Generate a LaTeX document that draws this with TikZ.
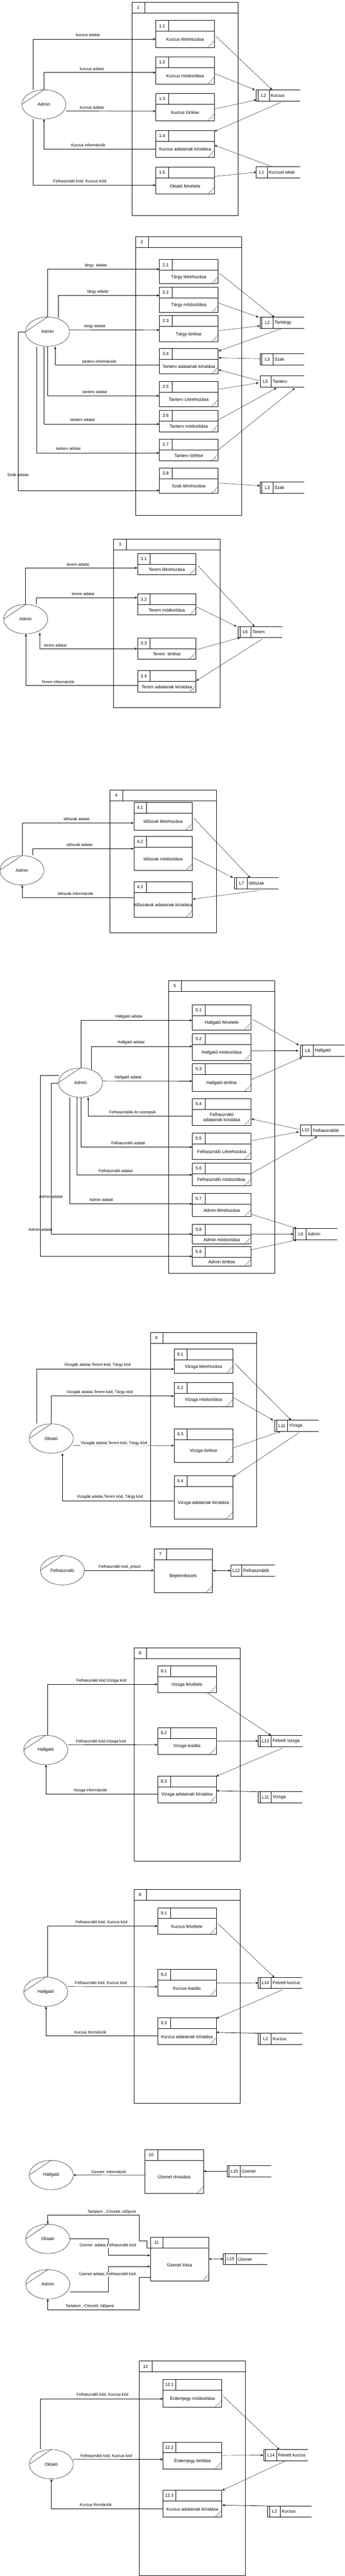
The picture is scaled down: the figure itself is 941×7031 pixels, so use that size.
\documentclass[tikz,border=0pt]{standalone}
\usepackage{fontspec}
\setmainfont{Liberation Sans}
\usetikzlibrary{arrows.meta, positioning, shapes.geometric, calc}

% process box: name, x, y top, height, number, text
\newcommand{\dfdproc}[6]{%
  \node[procbox, minimum height=#4pt] (#1) at (#2,#3) {};
  \draw[line width=1pt] ($(#1.north west)+(0,30)$) -- ($(#1.north east)+(0,30)$);
  \draw ($(#1.north west)+(35,0)$) -- ($(#1.north west)+(35,30)$);
  \draw ($(#1.south east)+(-19,0)$) -- ($(#1.south east)+(0,-20)$);
  \node[txt] (#1n) at ($(#1.north west)+(17.5,15)$) {#5};
  \node[txt, align=center] (#1t) at ($(#1.center)+(0,15)$) {#6};
  \node[astk] (#1s) at ($(#1.south east)+(-7,-5)$) {*};
}
% container: name, x, y top, height, number
\newcommand{\dfdcont}[5]{%
  \node[contbox, minimum height=#4pt] (#1) at (#2,#3) {};
  \draw[line width=1pt] ($(#1.north west)+(0,30)$) -- ($(#1.north east)+(0,30)$);
  \draw ($(#1.north west)+(35,0)$) -- ($(#1.north west)+(35,30)$);
  \node[txt] (#1n) at ($(#1.north west)+(17.5,15)$) {#5};
}
% data store: name, x, y top, id, text, inner line offset
\newcommand{\dfdstore}[6]{%
  \node[storebox] (#1) at (#2,#3) {};
  \draw[line width=1pt] (#1.north east) -- (#1.north west) -- (#1.south west) -- (#1.south east);
  \ifnum#6>0 \draw ($(#1.north west)+(#6,0)$) -- ($(#1.south west)+(#6,0)$);\fi
  \draw ($(#1.north west)+(30+#6,0)$) -- ($(#1.south west)+(30+#6,0)$);
  \node[txt] (#1i) at ($(#1.west)+(15+#6,0)$) {#4};
  \node[txt, anchor=west] (#1t) at ($(#1.west)+(33.5+#6,0)$) {#5};
}
% external entity: name, position, text
\newcommand{\dfdent}[3]{%
  \node[entity] (#1) at (#2) {#3};
  \draw[line width=0.7pt] (#1.west) -- (#1.north);
}

\begin{document}
\begin{tikzpicture}[x=1pt, y=-1pt,
    procbox/.style={draw, line width=1pt, minimum width=160pt, inner sep=0pt, anchor=north west},
    contbox/.style={draw, line width=1pt, minimum width=290pt, inner sep=0pt, anchor=north west},
    storebox/.style={minimum width=120pt, minimum height=30pt, inner sep=0pt, anchor=north west},
    entity/.style={ellipse, draw, line width=0.7pt, minimum width=120pt, minimum height=80pt, inner sep=0pt, font=\fontsize{12}{14}\selectfont},
    txt/.style={font=\fontsize{12}{14}\selectfont, inner sep=1pt},
    astk/.style={font=\fontsize{7}{8}\selectfont, inner sep=0pt},
    lbl/.style={font=\fontsize{11}{13}\selectfont, fill=white, inner sep=1pt},
    lblv/.style={font=\fontsize{11}{13}\selectfont, inner sep=1pt},
    flow/.style={line width=1pt, arrows={-Stealth[length=7pt, width=6pt]}},
    flow2/.style={line width=1pt, arrows={Stealth[length=7pt, width=6pt]-Stealth[length=7pt, width=6pt]}},
    link/.style={line width=0.6pt, arrows={-Stealth[length=7pt, width=6pt]}}]
    \useasboundingbox (0,0) rectangle (941,7031);

    % 1 - kurzusok
    \dfdcont{c1}{360}{5.4}{582.6}{1}
    \dfdproc{p11}{425}{55.5}{73.5}{1.1}{Kurzus létrehozása}
    \dfdproc{p12}{425}{155}{74}{1.2}{Kurzus módosítása}
    \dfdproc{p13}{425}{255}{74}{1.3}{Kurzus törlése}
    \dfdproc{p14}{425}{355.5}{73}{1.4}{Kurzus adatainak kiíratása}
    \dfdproc{p15}{425}{455}{74}{1.5}{Oktató felvétele}
    \dfdent{a1}{120,285}{Admin}
    \dfdstore{s1a}{700}{245.3}{L2}{Kurzus}{5}
    \dfdstore{s1b}{700}{455}{L1}{Kurzust oktat}{0}
    \draw[flow] ($(a1.north)+(-30,0)$) |- ($(p11.west)+(0,14)$);
    \draw[flow] (a1.north) |- ($(p12.west)+(0,5.5)$);
    \draw[flow] ($(a1.east)+(0,18)$) -- ($(p13.west)+(0,11)$);
    \draw[flow] ($(p14.west)+(0,13.7)$) -| (a1.south);
    \draw[flow] ($(a1.south)+(-30,0)$) |- ($(p15.west)+(0,13)$);
    \draw[link] ($(p11.east)+(3,5.4)$) -- ($(s1a.north west)+(43,0)$);
    \draw[link] ($(p12.east)+(0,8)$) -- ($(s1a.north west)+(-4,0)$);
    \draw[link] ($(p13.east)+(0,5)$) -- ($(s1a.south west)+(0,-3)$);
    \draw[link] ($(s1a.south west)+(67,3.5)$) -- ($(p14.north east)+(0,3)$);
    \draw[link] ($(s1b.north west)+(43,0)$) -- ($(p14.east)+(0,4)$);
    \draw[link] ($(p15.east)+(0,-11)$) -- (s1b.west);
    \node[lbl] (l11) at (240,95.7) {kurzus adatai};
    \node[lbl] (l12) at (251,188) {kurzus adatai};
    \node[lbl] (l13) at (251,293) {kurzus adatai};
    \node[lbl] (l14) at (241,396) {Kurzus információk};
    \node[lbl] (l15) at (218,495) {Felhasználó Kód, Kurzus Kód};

    % 2 - tantargyak, tantervek
    \dfdcont{c2}{370}{645}{760.5}{2}
    \dfdproc{p21}{435}{708}{66}{2.1}{Tárgy létrehozása}
    \dfdproc{p22}{435}{783}{69.6}{2.2}{Tárgy módosítása}
    \dfdproc{p23}{435}{861}{72}{2.3}{Tárgy törlése}
    \dfdproc{p24}{435}{951}{69}{2.4}{Tanterv adatainak kiíratása}
    \dfdproc{p25}{435}{1041}{68}{2.5}{Tanterv Létrehozása}
    \dfdproc{p26}{435}{1119}{59}{2.6}{Tanterv módosítása}
    \dfdproc{p27}{435}{1198}{59.4}{2.7}{Tanterv törlése}
    \dfdproc{p28}{435}{1277}{69}{2.8}{Szak létrehozása}
    \dfdent{a2}{130,905.4}{Admin}
    \dfdstore{s2a}{710}{865.6}{L2}{Tantárgy}{5}
    \dfdstore{s2b}{710}{965.5}{L3}{Szak}{5}
    \dfdstore{s2c}{710}{1025.6}{L5}{Tanterv}{0}
    \dfdstore{s2d}{710}{1315.6}{L3}{Szak}{5}
    \draw[flow] (a2.north) |- ($(p21.west)+(0,-6.7)$);
    \draw[flow] ($(a2.north)+(30,2)$) |- ($(p22.west)+(0,-11.8)$);
    \draw[flow] ($(a2.east)+(0,-5)$) -- ($(p23.west)+(0,3.4)$);
    \draw[flow] ($(p24.west)+(0,9.5)$) -| ($(a2.south)+(20.6,0)$);
    \draw[flow] (a2.south) |- ($(p25.west)+(0,5)$);
    \draw[flow] ($(a2.south)+(-9.4,0)$) |- ($(p26.west)+(0,8.5)$);
    \draw[flow] ($(a2.south)+(-30,0)$) |- ($(p27.west)+(0,8)$);
    \draw[flow] (a2.west) -- ++(-19.6,0) |- ($(p28.west)+(0,26.5)$);
    \draw[link] ($(p21.east)+(4,4.8)$) -- ($(s2a.north west)+(39,0)$);
    \draw[link] ($(p22.east)+(1,8.8)$) -- ($(s2a.north west)+(-4,0)$);
    \draw[link] ($(p23.east)+(1,5)$) -- ($(s2a.south west)+(0,-6.4)$);
    \draw[link] ($(s2a.south west)+(60,0.4)$) -- ($(p24.north east)+(1,7)$);
    \draw[link] ($(s2b.west)+(0,-1.5)$) -- ($(p24.east)+(1,-9.5)$);
    \draw[link] ($(s2c.west)+(-3,-1.6)$) -- ($(p24.east)+(1,23.2)$);
    \draw[link] ($(p25.east)+(1,-13)$) -- ($(s2c.west)+(-4,4.1)$);
    \draw[link] ($(p26.east)+(1,-3.5)$) -- ($(s2c.south west)+(45,3)$);
    \draw[link] ($(p27.north east)+(1,29.5)$) -- ($(s2c.south west)+(95,3.5)$);
    \draw[link] ($(p28.east)+(1,6.5)$) -- ($(s2d.west)+(0,-5)$);
    \node[lbl] (l21) at (262,725) {tárgy\ \ adatai};
    \node[lbl] (l22) at (267,796) {tárgy adatai};
    \node[lbl] (l23) at (259,891) {tárgy adatai};
    \node[lbl] (l24) at (271,986) {tanterv információk};
    \node[lbl] (l25) at (259,1070) {tanterv adatai};
    \node[lbl] (l26) at (225.6,1146) {tanterv adatai};
    \node[lbl] (l27) at (186.6,1225) {tanterv adatai};
    \node[lblv] (l28) at (49,1296) {Szak adatai};

    % 3 - termek
    \dfdcont{c3}{310}{1470.6}{459.4}{3}
    \dfdproc{p31}{375}{1510}{57.8}{3.1}{Terem létrehozása}
    \dfdproc{p32}{375}{1620.6}{57.4}{3.2}{Terem módosítása}
    \dfdproc{p33}{375}{1740.4}{57.6}{3.3}{Terem\ \ törlése}
    \dfdproc{p34}{375}{1830}{58.4}{3.4}{Terem adatainak kiíratása}
    \dfdent{a3}{70,1690}{Admin}
    \dfdstore{s3}{650}{1710}{L6}{Terem}{5}
    \draw[flow] (a3.north) |- ($(p31.west)+(0,10.5)$);
    \draw[flow] ($(a3.north)+(28.4,0)$) |- ($(p32.west)+(0,-18.8)$);
    \draw[flow2] ($(a3.south)+(38.6,-3)$) |- ($(p33.west)+(0,0.8)$);
    \draw[flow] ($(p34.west)+(0,10.8)$) -| ($(a3.south)+(0.8,0)$);
    \draw[link] ($(p31.east)+(4,4)$) -- ($(s3.north west)+(45,0)$);
    \draw[link] ($(p32.east)+(1,6.7)$) -- ($(s3.north west)+(-4,0)$);
    \draw[link] ($(p33.east)+(0,3.8)$) -- ($(s3.south west)+(5,0)$);
    \draw[link] ($(s3.south west)+(66,4)$) -- ($(p34.north east)+(0,28)$);
    \node[lbl] (l31) at (213,1541) {terem adatai};
    \node[lbl] (l32) at (227,1621) {terem adatai};
    \node[lbl] (l33) at (151,1761) {terem adatai};
    \node[lbl] (l34) at (158,1861) {Terem információk};

    % 4 - idoszakok
    \dfdcont{c4}{300}{2155.5}{390}{4}
    \dfdproc{p41}{365}{2188.8}{76.6}{4.1}{Időszak létrehozása}
    \dfdproc{p42}{365}{2282.6}{92.6}{4.2}{Időszak módosítása}
    \dfdproc{p43}{365}{2405.4}{97.9}{4.3}{Időszakok adatainak kiíratása}
    \dfdent{a4}{60,2375.3}{Admin}
    \dfdstore{s4}{640}{2395.5}{L7}{Időszak}{5}
    \draw[flow] ($(a4.north)+(0.6,0)$) |- ($(p41.west)+(0,18.4)$);
    \draw[flow] ($(a4.north)+(28.8,0)$) |- ($(p42.west)+(0,-13)$);
    \draw[flow] ($(p43.west)+(0,-5.3)$) -| ($(a4.south)+(0.6,0)$);
    \draw[link] ($(p41.east)+(3.6,5.9)$) -- ($(s4.north west)+(43,0)$);
    \draw[link] ($(p42.east)+(0.6,11)$) -- ($(s4.north west)+(-4,0)$);
    \draw[link] ($(s4.south west)+(66,4.7)$) -- ($(p43.east)+(0.6,-0.7)$);
    \node[lbl] (l41) at (209,2236) {időszak adatai};
    \node[lbl] (l42) at (217,2306) {időszak adatai};
    \node[lbl] (l43) at (206,2439.8) {Időszak információk};

    % 5 - felhasznalok
    \dfdcont{c5}{460}{2675.5}{799.8}{5}
    \dfdproc{p51}{525}{2741.4}{68.9}{5.1}{Hallgató felvétele}
    \dfdproc{p52}{525}{2821}{72.7}{5.2}{Hallgató módosítása}
    \dfdproc{p53}{525}{2902.5}{75.8}{5.3}{Hallgató törlése}
    \dfdproc{p54}{525}{2997.8}{72.6}{5.4}{Felhasználó\\adatainak kiíratása}
    \dfdproc{p55}{525}{3092}{71.8}{5.5}{Felhasználó Létrehozása}
    \dfdproc{p56}{525}{3174}{62}{5.6}{Felhasználó módosítása,}
    \dfdproc{p57}{525}{3257}{62.6}{5.7}{Admin létrehozása}
    \dfdproc{p58}{525}{3340.6}{54.4}{5.8}{Admin módosítása}
    \dfdproc{p59}{525}{3401.4}{54}{5.9}{Admin törlése}
    \dfdent{a5}{220,2955}{Admin}
    \dfdstore{s5a}{820}{2852.7}{L8}{Hallgató}{5}
    \dfdstore{s5b}{820}{3070}{L10}{Felhasználók}{0}
    \dfdstore{s5c}{801}{3352.8}{L9}{Admin}{5}
    \draw[flow] ($(a5.north)+(0.8,0)$) |- ($(p51.west)+(0,8.7)$);
    \draw[flow] ($(a5.north)+(29.6,5)$) |- ($(p52.west)+(0,-2)$);
    \draw[flow] ($(a5.east)+(0,-4.7)$) -- ($(p53.west)+(0,9.9)$);
    \draw[flow] ($(p54.west)+(0,11.9)$) -| ($(a5.south)+(20.6,0)$);
    \draw[flow] ($(a5.south)+(0.8,0)$) |- ($(p55.west)+(0,2.6)$);
    \draw[flow] ($(a5.south)+(-9.4,0)$) |- ($(p56.west)+(0,1)$);
    \draw[flow] ($(a5.south)+(-29.2,0)$) |- ($(p57.west)+(0,-2.8)$);
    \draw[flow] ($(a5.west)+(0,0.7)$) -- ++(-19.6,0) |- (p58.west);
    \draw[flow] ($(a5.west)+(1,-20)$) -- ++(-50.6,0) |- ($(p59.west)+(0,0.2)$);
    \draw[link] ($(p51.east)+(4,5.75)$) -- ($(s5a.north west)+(-4,0)$);
    \draw[flow] ($(p52.east)+(0,10.35)$) -- ($(s5a.west)+(-5,0)$);
    \draw[link] ($(p53.east)+(1,5.6)$) -- ($(s5a.south west)+(5,3)$);
    \draw[link] ($(s5b.west)+(-4,-2.7)$) -- ($(p54.east)+(1,19.5)$);
    \draw[link] ($(p55.east)+(0,-14.9)$) -- ($(s5b.west)+(-4,4)$);
    \draw[link] ($(p56.north east)+(0,29)$) -- ($(s5b.south west)+(46,2)$);
    \draw[link] ($(p57.east)+(0,25.5)$) -- ($(s5c.north west)+(9,0)$);
    \draw[flow] (p58.east) -- (s5c.west);
    \draw[link] ($(p59.east)+(0,-17.8)$) -- ($(s5c.south west)+(9,1.1)$);
    \node[lbl] (l51) at (352,2775) {Hallgató adatai};
    \node[lbl] (l52) at (357.6,2845.8) {Hallgató adatai};
    \node[lbl] (l53) at (350,2941) {Hallgató adatai};
    \node[lbl] (l54) at (362,3036) {Felhasználók és szerepük};
    \node[lbl] (l55) at (350,3120) {Felhasználó adatai};
    \node[lbl] (l56) at (315.6,3196.3) {Felhasználó adatai};
    \node[lbl] (l57) at (276.6,3275) {Admin adatai};
    \node[lblv] (l58) at (139,3266) {Admin adatai};
    \node[lblv] (l59) at (110,3356) {Admin adatai};

    % 6 - vizsgak
    \dfdcont{c6}{410}{3636.4}{530}{6}
    \dfdproc{p61}{475}{3681.5}{66.5}{6.1}{Vizsga létrehozása}
    \dfdproc{p62}{475}{3772.6}{66.6}{6.2}{Vizsga módosítása}
    \dfdproc{p63}{475}{3899.7}{91}{6.3}{Vizsga törlése}
    \dfdproc{p64}{475}{4027}{118.4}{6.4}{Vizsga adatainak kiíratása}
    \dfdent{o6}{140,3926.3}{Oktató}
    \dfdstore{s6}{750}{3876.3}{L11}{Vizsga}{5}
    \draw[flow] ($(o6.north)+(-40,0)$) |- ($(p61.west)+(0,21.1)$);
    \draw[flow] ($(o6.north)+(0.4,0)$) |- ($(p62.west)+(0,4.1)$);
    \draw[flow] ($(o6.east)+(0,18.9)$) -- (p63.west);
    \draw[flow] ($(p64.west)+(0,10.2)$) -| ($(o6.south)+(30.4,0)$);
    \draw[link] ($(p61.east)+(5,6.25)$) -- ($(s6.north west)+(45,0)$);
    \draw[link] ($(p62.east)+(1,8.1)$) -- ($(s6.north west)+(-4,0)$);
    \draw[link] ($(p63.east)+(1,6.1)$) -- ($(s6.south west)+(16,0)$);
    \draw[link] ($(s6.south west)+(66,4)$) -- ($(p64.north east)+(1,3.5)$);
    \node[lbl] (l61) at (266,3726) {Vizsgák adatai,Terem kód, Tárgy kód};
    \node[lbl] (l62) at (272,3800) {Vizsgák adatai,Terem kód, Tárgy kód};
    \node[lbl] (l63) at (311,3940) {Vizsgák adatai,Terem kód, Tárgy kód};
    \node[lbl] (l64) at (300,4086) {Vizsgák adatai,Terem kód, Tárgy kód};

    % 7 - bejelentkezes
    \dfdent{f7}{170.4,4286}{Felhasználó}
    \dfdproc{p7}{420}{4226.4}{119.8}{7}{Bejelentkezés}
    \dfdstore{s7}{630}{4271.6}{L12}{Felhasználók}{0}
    \draw[flow] (f7.east) -- (p7.west |- f7.east);
    \draw[flow2] (p7.east) -- (s7.west);
    \node[lbl] (l7) at (327,4276.5) {Felhasználó kód, jelszó};

    % 8 - vizsgajelentkezes
    \dfdcont{c8}{365}{4496.6}{583.2}{8}
    \dfdproc{p81}{430}{4546.4}{73.4}{8.1}{Vizsga felvétele}
    \dfdproc{p82}{430}{4714.7}{72.7}{8.2}{Vizsga leadás}
    \dfdproc{p83}{430}{4846.7}{73.1}{8.3}{Vizsga adatainak kiíratása}
    \dfdent{h8}{125,4776.3}{Hallgató}
    \dfdstore{s8a}{705}{4736.5}{L13}{Felvett vizsga}{5}
    \dfdstore{s8b}{705}{4890}{L11}{Vizsga}{5}
    \draw[flow] ($(h8.north)+(5,0)$) |- ($(p81.west)+(0,13.4)$);
    \draw[flow] ($(h8.east)+(0,-14.5)$) -- ($(p82.west)+(0,10.75)$);
    \draw[flow] ($(p83.west)+(0,13.15)$) -| ($(h8.south)+(0.4,0)$);
    \draw[link] ($(p81.south east)+(-24,0)$) -- ($(s8a.north west)+(35,0)$);
    \draw[flow] ($(p82.east)+(0,0.45)$) -- (s8a.west);
    \draw[link] ($(s8a.south west)+(66,4.6)$) -- ($(p83.north east)+(0,1.3)$);
    \draw[flow] ($(s8b.north west)+(0.6,0.3)$) -- ($(p83.east)+(0,4)$);
    \node[lbl] (l81) at (277,4587) {Felhasználó kód,Vizsga kód};
    \node[lbl] (l82) at (275.6,4753) {Felhasználó kód,Vizsga kód};
    \node[lbl] (l83) at (246.6,4887) {Vizsga információk};

    % 9 - kurzusjelentkezes
    \dfdcont{c9}{365}{5156.7}{582.8}{9}
    \dfdproc{p91}{430}{5206.4}{73.1}{9.1}{Kurzus felvétele}
    \dfdproc{p92}{430}{5374.4}{73.8}{9.2}{Kurzus leadás}
    \dfdproc{p93}{430}{5506.4}{73.6}{9.3}{Kurzus adatainak kiíratása}
    \dfdent{h9}{125,5436.3}{Hallgató}
    \dfdstore{s9a}{705}{5397}{L14}{Felvett kurzus}{5}
    \dfdstore{s9b}{705}{5549.6}{L2}{Kurzus}{5}
    \draw[flow] ($(h9.north)+(5,0)$) |- ($(p91.west)+(0,13.65)$);
    \draw[flow] ($(h9.east)+(0,-14.3)$) -- ($(p92.west)+(0,10.7)$);
    \draw[flow] ($(p93.west)+(0,13.3)$) -| ($(h9.south)+(0.4,0)$);
    \draw[link] ($(p91.east)+(4,6.75)$) -- ($(s9a.north west)+(44,0)$);
    \draw[flow] ($(p92.east)+(0,0.7)$) -- (s9a.west);
    \draw[link] ($(s9a.south west)+(66,3.6)$) -- ($(p93.north east)+(0,2.6)$);
    \draw[flow] ($(s9b.north west)+(0.6,0)$) -- ($(p93.east)+(0,3.4)$);
    \node[lbl] (l91) at (277,5247) {Felhasználó kód, Kurzus kód};
    \node[lbl] (l92) at (275.6,5413) {Felhasználó kód, Kurzus kód};
    \node[lbl] (l93) at (246.6,5547.3) {Kurzus iformációk};

    % 10 - uzenet olvasasa
    \dfdent{h10}{140,5936.5}{Hallgató}
    \dfdproc{p10}{395}{5866.5}{119.5}{10}{Üzenet olvasása}
    \dfdstore{s10}{620}{5911}{L15}{Üzenet}{5}
    \draw[flow] ($(p10.west)+(0,10.25)$) -- (h10.east);
    \draw[flow] (s10.west) -- (p10.east |- s10.west);
    \node[lbl] (l10) at (297,5928) {Üzenet\ \ információi};

    % 11 - uzenet irasa
    \dfdent{o11}{130.5,6110.8}{Oktató}
    \dfdent{a11}{130.5,6234.8}{Admin}
    \dfdproc{q11}{410}{6105.8}{119.4}{11}{Üzenet írása}
    \dfdstore{s11}{610}{6150.5}{L15}{Üzenet}{5}
    \draw[flow2] (q11.east) -- (s11.west);
    \draw[flow] ($(q11.north west)+(0,29.8)$) -- ++(-9.2,0) -- ++(0,-19.9) -- ++(-20.4,0) |- ($(o11.north)+(0,-24.6)$) -- (o11.north);
    \draw[flow] (o11.east) -- ++(104.5,0) |- ($(q11.west)+(0,-10)$);
    \draw[flow] ($(a11.east)+(0,20.2)$) -- ++(104.5,0) |- ($(q11.west)+(0,19.9)$);
    \draw[flow] ($(q11.south west)+(0,-10.2)$) -- ++(-29.6,0) |- ($(a11.south)+(0,29.8)$) -- (a11.south);
    \node[lbl] (l111) at (305,6037) {Tartalom , Címzett, Időpont};
    \node[lbl] (l112) at (294.6,6128.3) {Üzenet\ \ adatai,Felhasználó kód};
    \node[lbl] (l113) at (293.4,6207) {Üzenet adatai, Felhasználó kód};
    \node[lbl] (l114) at (244.8,6295) {Tartalom , Címzett, Időpont};

    % 12 - erdemjegyek
    \dfdcont{c12}{380}{6443.7}{585.3}{12}
    \dfdproc{p121}{445}{6493.4}{76}{12.1}{Érdemjegy módosítása}
    \dfdproc{p122}{445}{6664.6}{73.4}{12.2}{Érdemjegy beítása}
    \dfdproc{p123}{445}{6796.3}{73.1}{12.3}{Kurzus adatainak kiíratása}
    \dfdent{o12}{140,6726}{Oktató}
    \dfdstore{s12a}{720}{6686}{L14}{Felvett kurzus}{5}
    \dfdstore{s12b}{730}{6839.6}{L2}{Kurzus}{5}
    \draw[flow] ($(o12.north)+(-29.6,0)$) |- ($(p121.west)+(0,15.3)$);
    \draw[flow] ($(o12.east)+(0,-14)$) -- ($(p122.west)+(0,10.7)$);
    \draw[flow] ($(p123.west)+(0,13.15)$) -| ($(o12.south)+(0.4,0)$);
    \draw[link] ($(p121.east)+(3,7.6)$) -- ($(s12a.north west)+(43,0)$);
    \draw[link] ($(p122.east)+(0,0.2)$) -- ($(s12a.west)+(-1,0)$);
    \draw[link] ($(s12a.south west)+(59,0.7)$) -- ($(p123.north east)+(1,0.7)$);
    \draw[flow] (s12b.north west) -- ($(p123.east)+(1,4.15)$);
    \node[lbl] (l121) at (280,6536.6) {Felhasználó kód, Kurzus kód};
    \node[lbl] (l122) at (290,6703) {Felhasználó kód, Kurzus kód};
    \node[lbl] (l123) at (261.6,6837) {Kurzus iformációk};
\end{tikzpicture}
\end{document}
